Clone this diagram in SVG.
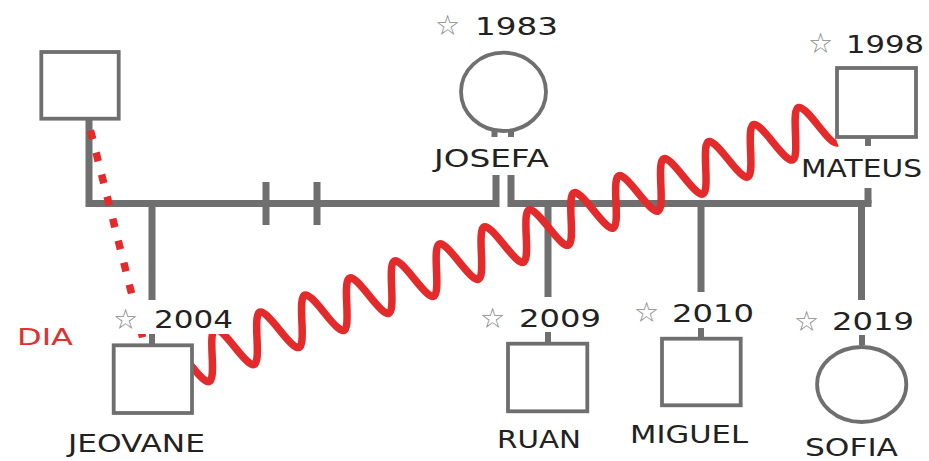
<svg xmlns="http://www.w3.org/2000/svg" width="929" height="461" viewBox="0 0 929 461">
<style>
.shape{fill:#fff;stroke:#6f6f6f;stroke-width:3.8}
.line{fill:none;stroke:#6f6f6f;stroke-width:7}
.stub{fill:none;stroke:#6f6f6f;stroke-width:6}
.name{font-family:"DejaVu Sans",sans-serif;font-size:25px;fill:#222}
.year{font-family:"DejaVu Sans",sans-serif;font-size:24px;fill:#222}
.star{font-family:"DejaVu Sans",sans-serif;font-size:28px;fill:#8a8a8a}
.red{fill:none;stroke:#e42b2b;stroke-width:7.5}
</style>
<rect width="929" height="461" fill="#fff"/>
<g id="connectors">
<path class="line" d="M89,120 V203.5 H496 V175"/>
<path class="line" d="M511,175 V203.5 H871.5"/>
<path class="line" d="M868,188 V203.5"/>
<path class="line" d="M152,203.5 V300 M548,203.5 V297 M701,203.5 V292 M861.5,203.5 V300"/>
<path class="line" d="M266,182 V225 M317,182 V225"/>
<path class="stub" d="M152,334 V345 M548,332 V343 M701,328 V338 M862,335 V345 M868,137 V146"/>
<path class="stub" stroke-width="5" d="M494.5,128 V137 M511,128 V137"/>
<path class="red" stroke-width="8" stroke-dasharray="9 13.7" d="M90.5,130.5 L142.8,338"/>
<path class="red" transform="translate(257,338.3) rotate(-20.8)" d="M-72,0 c10.19,31.33 13.81,31.33 24,0 s13.81,-31.33 24,0 s13.81,31.33 24,0 s13.81,-31.33 24,0 s13.81,31.33 24,0 s13.81,-31.33 24,0 s13.81,31.33 24,0 s13.81,-31.33 24,0 s13.81,31.33 24,0 s13.81,-31.33 24,0 s13.81,31.33 24,0 s13.81,-31.33 24,0 s13.81,31.33 24,0 s13.81,-31.33 24,0 s13.81,31.33 24,0 s13.81,-31.33 24,0 s13.81,31.33 24,0 s13.81,-31.33 24,0 s13.81,31.33 24,0 s13.81,-31.33 24,0 s13.81,31.33 24,0 s13.81,-31.33 24,0 s13.81,31.33 24,0 s13.81,-31.33 24,0 s13.81,31.33 24,0 s13.81,-31.33 24,0 s13.81,31.33 24,0 s13.81,-31.33 24,0 c4.01,12.34 7.68,23.5 12,23.5"/>
</g>
<g id="dia">
<text x="17" y="345" font-family="DejaVu Sans, sans-serif" font-size="23" fill="#e33030" textLength="56" lengthAdjust="spacingAndGlyphs">DIA</text>
</g>
<g id="father-left">
<rect class="shape" x="41.3" y="52" width="77.4" height="66.7"/>
</g>
<g id="josefa">
<ellipse class="shape" cx="503.5" cy="91.8" rx="42.5" ry="39.2"/>
<text class="star" x="435" y="35">☆</text>
<text class="year" x="475" y="35" textLength="83" lengthAdjust="spacingAndGlyphs">1983</text>
<text class="name" x="434" y="167" textLength="115" lengthAdjust="spacingAndGlyphs">JOSEFA</text>
</g>
<g id="mateus">
<rect class="shape" x="837" y="68" width="79" height="69"/>
<text class="star" x="808" y="53">☆</text>
<text class="year" x="846" y="53" textLength="78" lengthAdjust="spacingAndGlyphs">1998</text>
<text class="name" x="801" y="177" textLength="121" lengthAdjust="spacingAndGlyphs">MATEUS</text>
</g>
<g id="jeovane">
<rect x="110" y="303" width="130" height="31" fill="#fff"/>
<rect class="shape" x="113.7" y="345.3" width="78.3" height="67.7"/>
<text class="star" x="113" y="329">☆</text>
<text class="year" x="154" y="328" textLength="79" lengthAdjust="spacingAndGlyphs">2004</text>
<text class="name" x="68" y="452" textLength="137" lengthAdjust="spacingAndGlyphs">JEOVANE</text>
</g>
<g id="ruan">
<rect class="shape" x="508" y="343.7" width="79.3" height="67.6"/>
<text class="star" x="480" y="328">☆</text>
<text class="year" x="519" y="327" textLength="82" lengthAdjust="spacingAndGlyphs">2009</text>
<text class="name" x="497" y="448" textLength="84" lengthAdjust="spacingAndGlyphs">RUAN</text>
</g>
<g id="miguel">
<rect class="shape" x="662" y="338.7" width="78.7" height="66.6"/>
<text class="star" x="634" y="322">☆</text>
<text class="year" x="672" y="322" textLength="82" lengthAdjust="spacingAndGlyphs">2010</text>
<text class="name" x="630" y="443" textLength="118" lengthAdjust="spacingAndGlyphs">MIGUEL</text>
</g>
<g id="sofia">
<ellipse class="shape" cx="861.7" cy="384.5" rx="44.6" ry="37.5"/>
<text class="star" x="794" y="331">☆</text>
<text class="year" x="832" y="330" textLength="82" lengthAdjust="spacingAndGlyphs">2019</text>
<text class="name" x="805" y="456" textLength="93" lengthAdjust="spacingAndGlyphs">SOFIA</text>
</g>
</svg>
